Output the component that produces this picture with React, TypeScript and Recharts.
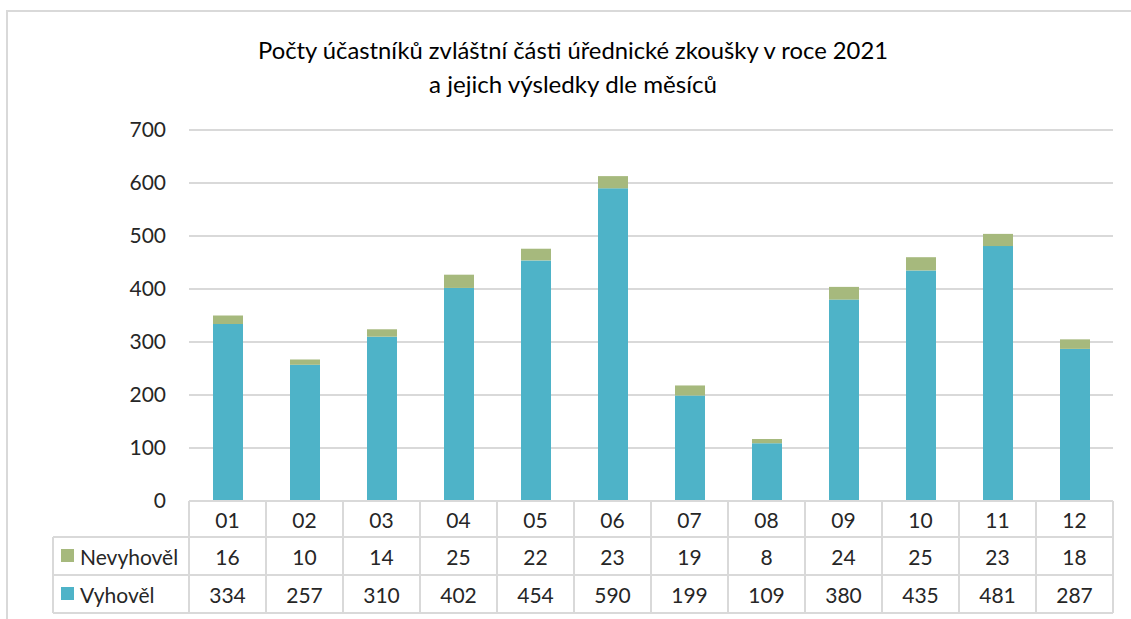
import { BarChart, Bar, XAxis, YAxis, CartesianGrid, Customized } from 'recharts'

const months = ['01', '02', '03', '04', '05', '06', '07', '08', '09', '10', '11', '12']
const passed = [334, 257, 310, 402, 454, 590, 199, 109, 380, 435, 481, 287]
const failed = [16, 10, 14, 25, 22, 23, 19, 8, 24, 25, 23, 18]
const yTicks = [0, 100, 200, 300, 400, 500, 600, 700]

const titleLines = [
  'Počty účastníků zvláštní části úřednické zkoušky v roce 2021',
  'a jejich výsledky dle měsíců',
]

const series = [
  { key: 'failed', name: 'Nevyhověl', color: '#a6b97d', values: failed },
  { key: 'passed', name: 'Vyhověl', color: '#4eb3c8', values: passed },
]

const data = months.map((m, i) => ({ month: m, passed: passed[i], failed: failed[i] }))

const W = 1131
const H = 619
const LEFT = 189
const RIGHT = 1113
const TOP = 130
const BOTTOM = 501
const ROWS = [501, 537, 575, 613]
const TABLE_LEFT = 53
const GRID = '#d9d9d9'
const FONT = 'Lato, "Open Sans", sans-serif'
const TEXT = '#262626'

const band = (RIGHT - LEFT) / months.length

function TableTick(props: any) {
  const { x, payload, index } = props
  const l = x - band / 2
  const r = x + band / 2
  return (
    <g>
      <line x1={l} x2={l} y1={ROWS[0]} y2={ROWS[3]} stroke={GRID} strokeWidth={2} />
      <line x1={r} x2={r} y1={ROWS[0]} y2={ROWS[3]} stroke={GRID} strokeWidth={2} />
      {ROWS.map((y) => (
        <line key={y} x1={l} x2={r} y1={y} y2={y} stroke={GRID} strokeWidth={2} />
      ))}
      <text x={x} y={(ROWS[0] + ROWS[1]) / 2} textAnchor="middle" dominantBaseline="central"
        fontSize={21} fontFamily={FONT} fill={TEXT}>{payload.value}</text>
      {series.map((s, k) => (
        <text key={s.key} x={x} y={(ROWS[k + 1] + ROWS[k + 2]) / 2} textAnchor="middle"
          dominantBaseline="central" fontSize={21} fontFamily={FONT} fill={TEXT}>
          {s.values[index]}
        </text>
      ))}
    </g>
  )
}

function Extras() {
  return (
    <g>
      {titleLines.map((t, i) => (
        <text key={i} x={573} y={50 + i * 34} textAnchor="middle" dominantBaseline="central"
          fontSize={23} fontFamily={FONT} fill="#000"
          textLength={i === 0 ? 630 : 288} lengthAdjust="spacingAndGlyphs">{t}</text>
      ))}
      {ROWS.slice(1).map((y) => (
        <line key={y} x1={TABLE_LEFT} x2={LEFT} y1={y} y2={y} stroke={GRID} strokeWidth={2} />
      ))}
      <line x1={TABLE_LEFT} x2={TABLE_LEFT} y1={ROWS[1]} y2={ROWS[3]} stroke={GRID} strokeWidth={2} />
      {series.map((s, k) => {
        const cy = (ROWS[k + 1] + ROWS[k + 2]) / 2
        return (
          <g key={s.key}>
            <rect x={61} y={cy - 7} width={13} height={13} fill={s.color} />
            <text x={80} y={cy} dominantBaseline="central" fontSize={21} fontFamily={FONT} fill={TEXT}>
              {s.name}
            </text>
          </g>
        )
      })}
    </g>
  )
}

export default function App() {
  return (
    <div style={{ position: 'absolute', left: 0, top: 0, width: W, height: H, background: '#fff', overflow: 'hidden' }}>
      <div style={{ position: 'absolute', left: 6, top: 10, width: W, height: H, borderTop: `2px solid ${GRID}`, borderLeft: `2px solid ${GRID}` }} />
      <div style={{ position: 'absolute', left: 0, top: 0 }}>
        <BarChart width={W} height={H} data={data}
          margin={{ top: TOP, right: W - RIGHT, bottom: H - ROWS[3], left: 0 }} barSize={30}>
          <CartesianGrid vertical={false} stroke={GRID} strokeWidth={2} />
          <XAxis dataKey="month" height={ROWS[3] - BOTTOM} axisLine={false} tickLine={false}
            tick={<TableTick />} interval={0} />
          <YAxis width={LEFT} domain={[0, 700]} ticks={yTicks} axisLine={false} tickLine={false}
            tickMargin={17} tick={{ fontSize: 21, fontFamily: FONT, fill: TEXT }} />
          <Bar dataKey="passed" name="Vyhověl" stackId="a" fill={series[1].color} isAnimationActive={false} />
          <Bar dataKey="failed" name="Nevyhověl" stackId="a" fill={series[0].color} isAnimationActive={false} />
          <Customized component={<Extras />} />
        </BarChart>
      </div>
    </div>
  )
}
